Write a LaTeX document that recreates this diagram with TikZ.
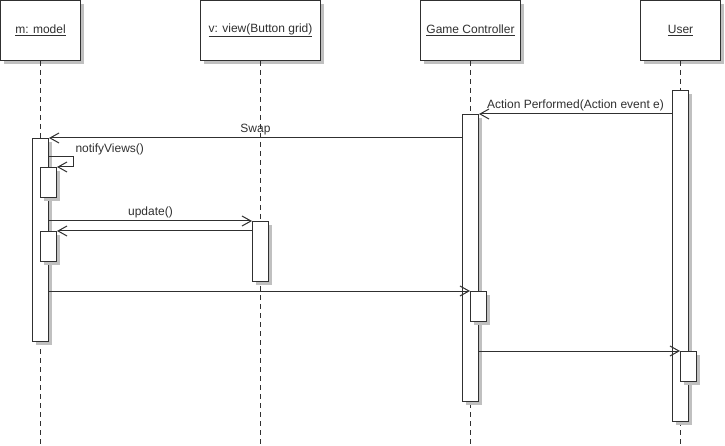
\documentclass[tikz,border=0pt]{standalone}
\usepackage{fontspec}
\setmainfont{Liberation Sans}
\usetikzlibrary{arrows.meta}
\definecolor{shadowgray}{RGB}{192,192,192}
\definecolor{ink}{RGB}{48,48,48}
% box with a gray drop shadow: name, x, y (top), width, height, text
\newcommand{\sdbox}[6]{%
  \fill[shadowgray] (#2-#4/2+3.5,#3-3.5) rectangle (#2+#4/2+3.5,#3-#5-3.5);
  \node[box, minimum width=#4pt, minimum height=#5pt] (#1) at (#2,#3-#5/2) {#6};}
\begin{document}
\begin{tikzpicture}[x=1pt,y=1pt,
  font=\fontsize{12}{14}\selectfont,
  every node/.style={text=ink},
  box/.style={draw=ink, line width=1pt, fill=white, inner sep=0pt},
  life/.style={draw=ink, line width=1pt, dash pattern=on 5pt off 4pt},
  msg/.style={draw=ink, line width=1pt, -{Straight Barb[length=9pt,width=10pt]}}]
\useasboundingbox (0,0) rectangle (725,-446);

% objects
\sdbox{m}{40.5}{-0.5}{80}{60}{\underline{m: model}}
\sdbox{v}{260.5}{-0.5}{120}{60}{\underline{v: view(Button grid)}}
\sdbox{gc}{470.5}{-0.5}{100}{60}{\underline{Game Controller}}
\sdbox{u}{680.5}{-0.5}{80}{60}{\underline{User}}

% lifelines
\coordinate (mEnd) at (40.5,-446);
\coordinate (vEnd) at (260.5,-446);
\coordinate (gcEnd) at (470.5,-446);
\coordinate (uEnd) at (680.5,-446);
\path[life] (m.south) -- (mEnd);
\path[life] (v.south) -- (vEnd);
\path[life] (gc.south) -- (gcEnd);
\path[life] (u.south) -- (uEnd);

% activations
\sdbox{u1}{680.5}{-90.5}{16}{331}{}
\sdbox{gc1}{470.5}{-114.5}{16}{287}{}
\sdbox{m1}{40.5}{-138.5}{16}{203}{}
\sdbox{m2}{48.5}{-167.5}{16}{30}{}
\sdbox{v1}{260.5}{-221.5}{16}{60}{}
\sdbox{m3}{48.5}{-231.5}{16}{30}{}
\sdbox{gc2}{478.5}{-291.5}{16}{30}{}
\sdbox{u2}{688.5}{-351.5}{16}{30}{}

% messages
\path[msg] (u1.west |- gc1.north) -- node[above, inner sep=3pt] {Action Performed(Action event e)} (gc1.north east);
\path[msg] (gc1.west |- m1.north) -- node[above, inner sep=3pt] {Swap} (m1.north east);
\path[msg] ([yshift=10pt]m1.east |- m2.north) -- ++(24,0) node[anchor=south west, inner sep=2pt] {notifyViews()} |- (m2.north east);
\path[msg] (m1.east |- v1.north) -- node[above, inner sep=3pt] {update()} (v1.north west);
\path[msg] (v1.west |- m3.north) -- (m3.north east);
\path[msg] (m1.east |- gc2.north) -- (gc2.north west);
\path[msg] (gc1.east |- u2.north) -- (u2.north west);
\end{tikzpicture}
\end{document}
